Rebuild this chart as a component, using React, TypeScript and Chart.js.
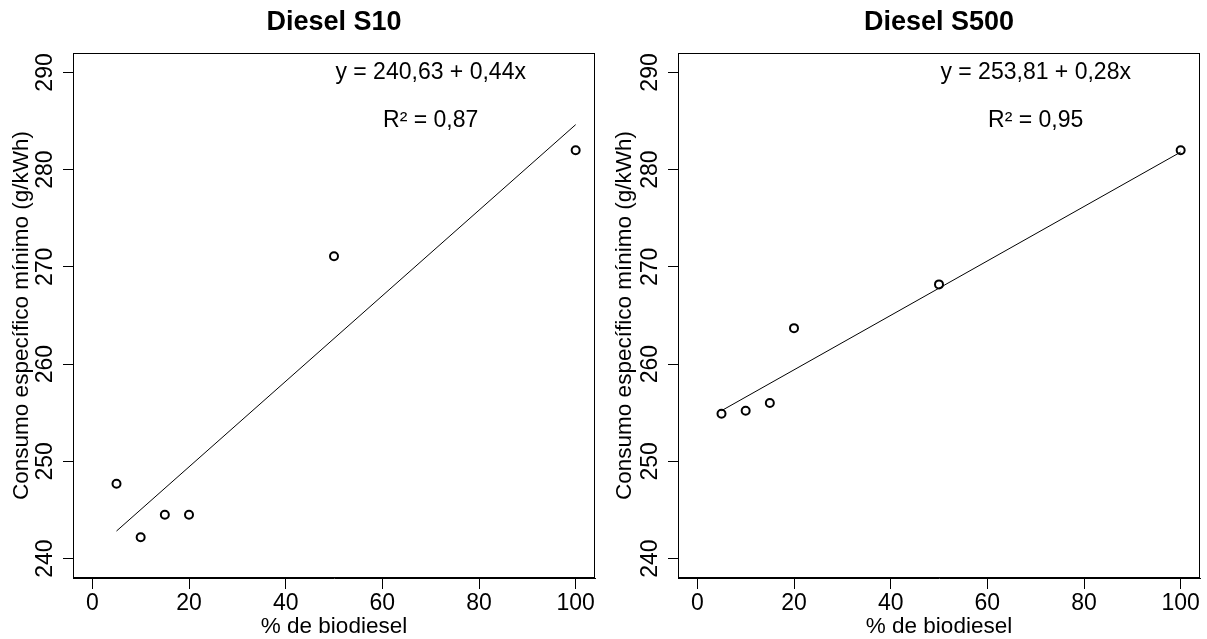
import React, { useEffect, useRef } from 'react';
import { Chart, registerables } from 'chart.js';

Chart.register(...registerables);

// ---------- data ----------
const biodieselPct = [5, 10, 15, 20, 50, 100];
const consumoS10 = [247.7, 242.2, 244.5, 244.5, 271.1, 282.0];
const consumoS500 = [254.9, 255.2, 256.0, 263.7, 268.2, 282.0];
// regression coefficients [intercept, slope]
const fitS10 = [240.63, 0.44];
const fitS500 = [253.81, 0.28];
const panelTitles = ['Diesel S10', 'Diesel S500'];
const equationLabels = ['y = 240,63 + 0,44x', 'y = 253,81 + 0,28x'];
const r2Labels = ['R² = 0,87', 'R² = 0,95'];
const xTicks = [0, 20, 40, 60, 80, 100];
const yTicks = [240, 250, 260, 270, 280, 290];
const xAxisTitle = '% de biodiesel';
const yAxisTitle = 'Consumo específico mínimo (g/kWh)';
// annotation anchor (data coordinates)
const annotX = 70;
const annotY = [290, 285];

const FONT = '"Liberation Sans", Arial, Helvetica, sans-serif';

type PanelSpec = {
  values: number[];
  fit: number[];
  title: string;
  eq: string;
  r2: string;
  width: number;
  left: number;
  yW: number;
  padR: number;
};

const panels: PanelSpec[] = [
  { values: consumoS10, fit: fitS10, title: panelTitles[0], eq: equationLabels[0], r2: r2Labels[0], width: 603, left: 0, yW: 73, padR: 8 },
  { values: consumoS500, fit: fitS500, title: panelTitles[1], eq: equationLabels[1], r2: r2Labels[1], width: 604, left: 603, yW: 75, padR: 7 },
];

function Panel({ spec }: { spec: PanelSpec }) {
  const ref = useRef<HTMLCanvasElement>(null);
  useEffect(() => {
    const xMin = Math.min(...biodieselPct);
    const xMax = Math.max(...biodieselPct);
    const [a, b] = spec.fit;

    const decor = {
      id: 'decor',
      afterDraw(chart: any) {
        const { ctx, chartArea, scales } = chart;
        ctx.save();
        // frame
        ctx.strokeStyle = '#000';
        ctx.lineWidth = 1;
        const l = Math.round(chartArea.left) + 0.5;
        const t = Math.round(chartArea.top) + 0.5;
        const r = Math.round(chartArea.right) - 0.5;
        const bt = Math.round(chartArea.bottom) - 0.5;
        ctx.strokeRect(l, t, r - l, bt - t);
        // rotated y tick labels
        ctx.fillStyle = '#000';
        ctx.font = `23px ${FONT}`;
        ctx.textAlign = 'center';
        ctx.textBaseline = 'middle';
        const ys = scales.y;
        ys.ticks.forEach((tk: any) => {
          const py = ys.getPixelForValue(tk.value);
          ctx.save();
          ctx.translate(chartArea.left - 27.5, py);
          ctx.rotate(-Math.PI / 2);
          ctx.fillText(String(tk.value), 0, 0);
          ctx.restore();
        });
        // annotations
        const px = scales.x.getPixelForValue(annotX);
        ctx.fillText(spec.eq, px, ys.getPixelForValue(annotY[0]));
        ctx.fillText(spec.r2, px, ys.getPixelForValue(annotY[1]));
        ctx.restore();
      },
    };

    const chart = new Chart(ref.current!, {
      type: 'scatter',
      data: {
        datasets: [
          {
            data: biodieselPct.map((x, i) => ({ x, y: spec.values[i] })),
            showLine: false,
            pointRadius: 4,
            pointBorderWidth: 2,
            pointBorderColor: '#000',
            pointBackgroundColor: 'rgba(0,0,0,0)',
          },
          {
            data: [
              { x: xMin, y: a + b * xMin },
              { x: xMax, y: a + b * xMax },
            ],
            showLine: true,
            borderColor: '#000',
            borderWidth: 1,
            pointRadius: 0,
            fill: false,
          },
        ],
      },
      options: {
        responsive: false,
        animation: false,
        devicePixelRatio: 1,
        layout: { padding: { left: 0, top: 0, right: spec.padR, bottom: 0 } },
        plugins: {
          legend: { display: false },
          tooltip: { enabled: false },
          title: {
            display: true,
            text: spec.title,
            fullSize: false,
            color: '#000',
            font: { family: FONT, size: 27, weight: 'bold', lineHeight: 1.2 },
            padding: { top: 6, bottom: 14.6 },
          },
        },
        scales: {
          x: {
            type: 'linear',
            min: -4,
            max: 104,
            afterBuildTicks: (s: any) => {
              s.ticks = xTicks.map((v) => ({ value: v }));
            },
            afterFit: (s: any) => {
              s.height = 61;
            },
            ticks: {
              color: '#000',
              font: { family: FONT, size: 23 },
              padding: 1,
              maxRotation: 0,
              autoSkip: false,
            },
            grid: { display: true, drawOnChartArea: false, drawTicks: true, tickLength: 11, color: '#000', lineWidth: 1 },
            border: { display: true, color: '#000', width: 1 },
            title: {
              display: true,
              text: xAxisTitle,
              color: '#000',
              font: { family: FONT, size: 22.5, lineHeight: 1 },
              padding: { top: 1, bottom: 1 },
            },
          },
          y: {
            type: 'linear',
            min: 238,
            max: 292,
            afterBuildTicks: (s: any) => {
              s.ticks = yTicks.map((v) => ({ value: v }));
            },
            afterFit: (s: any) => {
              s.width = spec.yW;
            },
            ticks: { display: false },
            grid: { display: true, drawOnChartArea: false, drawTicks: true, tickLength: 10, color: '#000', lineWidth: 1 },
            border: { display: true, color: '#000', width: 1 },
            title: {
              display: true,
              text: yAxisTitle,
              color: '#000',
              font: { family: FONT, size: 22.5, lineHeight: 1 },
              padding: { top: 11, bottom: 11 },
            },
          },
        },
      },
      plugins: [decor],
    } as any);
    return () => chart.destroy();
  }, [spec]);
  return (
    <canvas
      ref={ref}
      width={spec.width}
      height={639}
      style={{ position: 'absolute', left: spec.left, top: 0, width: spec.width, height: 639 }}
    />
  );
}

export default function App() {
  return (
    <div style={{ position: 'fixed', left: 0, top: 0, width: 1207, height: 639, background: '#fff', overflow: 'hidden' }}>
      {panels.map((p, i) => (
        <Panel key={i} spec={p} />
      ))}
    </div>
  );
}
